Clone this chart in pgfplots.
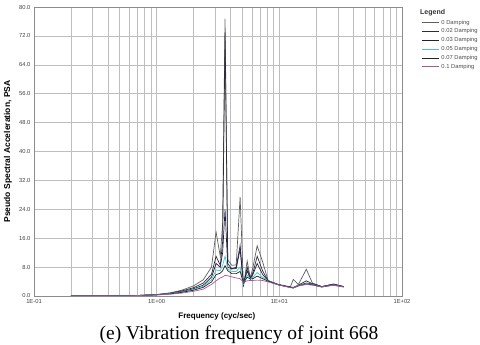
\documentclass[border=0pt]{standalone}
\usepackage{pgfplots}
\usepackage{pgfplotstable}
\pgfplotsset{compat=1.18}
\usepackage{fontspec}
\setmainfont{Liberation Sans}
\newfontfamily\capfont{Liberation Serif}

\definecolor{cA}{RGB}{95,95,95}
\definecolor{cB}{RGB}{45,45,55}
\definecolor{cC}{RGB}{30,30,75}
\definecolor{cD}{RGB}{80,195,195}
\definecolor{cE}{RGB}{35,35,35}
\definecolor{cF}{RGB}{170,85,160}
\definecolor{gridc}{RGB}{190,190,190}

\pgfplotstableread{
f      d0    d02   d03   d05   d07   d10
0.2    0.0   0.0   0.0   0.0   0.0   0.0
0.3    0.02  0.02  0.02  0.02  0.02  0.02
0.5    0.05  0.05  0.05  0.05  0.05  0.05
0.7    0.15  0.15  0.15  0.15  0.12  0.12
1.0    0.4   0.4   0.35  0.35  0.3   0.3
1.3    0.9   0.8   0.7   0.7   0.6   0.5
1.6    1.6   1.4   1.2   1.1   1.0   0.8
2.0    2.8   2.3   2.0   1.8   1.6   1.3
2.4    4.5   3.6   3.0   2.7   2.4   1.9
2.8    8.0   6.0   5.2   4.5   3.9   3.2
3.05   17.7  11.0  9.0   7.2   5.9   4.2
3.3    11.0  8.5   8.0   7.0   6.3   5.0
3.45   20.0  15.0  12.0  8.5   7.0   5.3
3.61   76.7  73.0  24.0  11.0  8.4   5.7
3.8    10.0  9.0   8.0   7.5   7.0   5.6
4.1    8.5   7.5   7.5   6.8   6.2   5.3
4.45   8.6   8.0   7.6   6.8   6.2   5.0
4.79   27.4  14.0  13.0  8.0   6.8   4.8
5.1    2.8   3.0   3.1   3.3   3.6   3.8
5.47   9.7   8.0   7.0   5.8   5.2   4.2
5.8    5.0   4.8   4.7   4.8   4.7   4.3
6.1    8.0   6.5   6.0   5.2   4.8   4.3
6.6    13.9  11.0  9.0   6.5   5.5   4.4
7.3    9.5   7.0   6.0   5.2   4.8   4.3
8.1    4.3   4.2   4.2   4.2   4.1   3.9
9.8    3.2   3.2   3.1   3.1   3.1   3.1
12.3   2.5   2.5   2.4   2.4   2.4   2.3
13.0   4.6   2.4   2.3   2.3   2.2   2.2
14.3   3.2   3.0   2.9   2.9   2.8   2.8
16.6   7.4   4.2   3.6   3.4   3.3   3.2
18.6   3.6   3.4   3.3   3.2   3.1   3.0
22.2   2.6   2.6   2.6   2.5   2.5   2.5
27.6   3.3   3.3   3.2   3.1   3.0   3.0
33.5   2.6   2.6   2.6   2.5   2.5   2.5
}\psa

\begin{document}
\begin{tikzpicture}
\path[use as bounding box] (-34pt,-49pt) rectangle (446pt,296pt);
\begin{axis}[
  at={(0,0)}, anchor=south west,
  scale only axis,
  width=368pt, height=289pt,
  xmode=log,
  xmin=0.1, xmax=100,
  ymin=0, ymax=80,
  xtick={0.1,1,10,100},
  xticklabels={1E-01,1E+00,1E+01,1E+02},
  ytick={0,8,...,80},
  /pgf/number format/assume math mode=true,
  yticklabel style={/pgf/number format/fixed,/pgf/number format/fixed zerofill,/pgf/number format/precision=1},
  tick label style={font=\fontsize{5.8}{6}\selectfont, text=black!75},
  grid=both,
  major grid style={gridc, line width=0.6pt},
  minor grid style={gridc, line width=0.6pt},
  axis line style={black!45, line width=0.6pt},
  tick style={draw=none},
  xlabel={Frequency (cyc/sec)},
  ylabel={Pseudo Spectral Acceleration, PSA},
  xlabel style={font=\bfseries\fontsize{8}{9}\selectfont, at={(axis description cs:0.497,-0.069)}, anchor=center},
  ylabel style={font=\bfseries\fontsize{8.5}{9}\selectfont, at={(axis description cs:-0.071,0.5)}, anchor=center},
  legend style={at={(axis description cs:1.045,0.97)}, anchor=north west, draw=none, fill=none,
    font=\fontsize{5.8}{6}\selectfont, row sep=-0.9pt, text=black!70},
  legend cell align=left,
  legend image code/.code={\draw[#1] (0pt,0pt) -- (17pt,0pt);},
  every axis plot/.append style={line width=0.7pt},
]
\addplot[cA] table[x=f,y=d0] {\psa};
\addlegendentry{0 Damping}
\addplot[cB] table[x=f,y=d02] {\psa};
\addlegendentry{0.02 Damping}
\addplot[cC] table[x=f,y=d03] {\psa};
\addlegendentry{0.03 Damping}
\addplot[cD] table[x=f,y=d05] {\psa};
\addlegendentry{0.05 Damping}
\addplot[cE] table[x=f,y=d07] {\psa};
\addlegendentry{0.07 Damping}
\addplot[cF] table[x=f,y=d10] {\psa};
\addlegendentry{0.1 Damping}
\end{axis}
\node[anchor=north west, font=\bfseries\fontsize{7}{8}\selectfont, text=black!80, inner sep=0pt]
  at (386pt,287pt) {Legend};
\node[font=\capfont\fontsize{19.5}{22}\selectfont, anchor=center] at (205pt,-39pt) {(e) Vibration frequency of joint 668};
\end{tikzpicture}
\end{document}
